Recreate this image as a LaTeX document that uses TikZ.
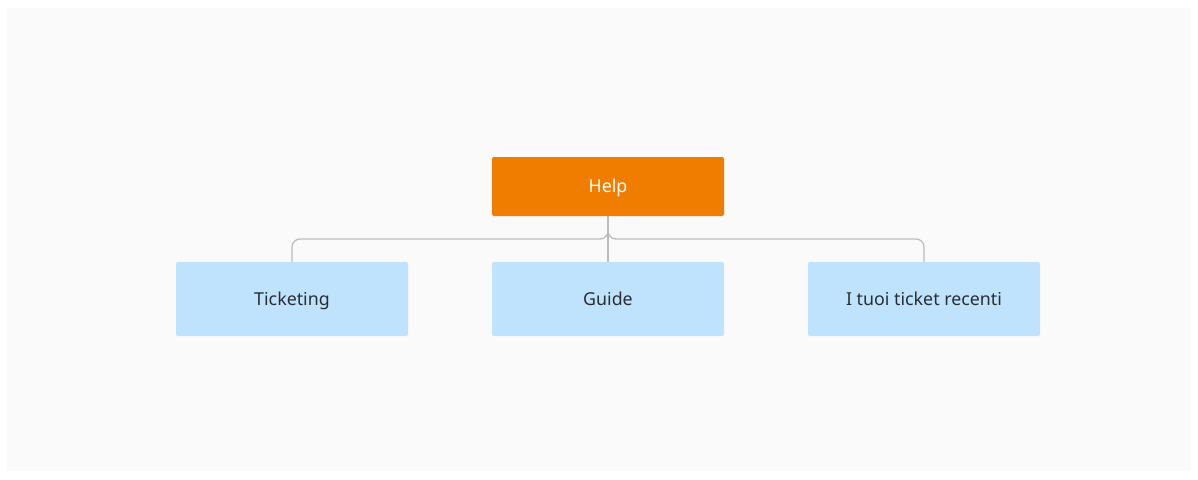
\documentclass[tikz,border=0pt]{standalone}
\usepackage{fontspec}
\setmainfont{Noto Sans}
\definecolor{bgc}{HTML}{FAFAFA}
\definecolor{helpc}{HTML}{F07D00}
\definecolor{childc}{HTML}{BFE3FD}
\definecolor{linec}{HTML}{BDBDBD}
\definecolor{txtc}{HTML}{2A2E33}
\begin{document}
\begin{tikzpicture}[x=1pt,y=-1pt,
  box/.style={rounded corners=2pt, minimum width=232pt, minimum height=60pt, inner sep=0pt, text height=12.9pt, text depth=0pt, font=\fontsize{17.8}{21}\selectfont},
  rootbox/.style={box, fill=helpc, text=white, minimum height=59pt},
  childbox/.style={box, fill=childc, text=txtc, minimum height=74pt},
  conn/.style={draw=linec, line width=1.3pt, rounded corners=8pt}]
\fill[white] (0,0) rectangle (1198,479);
\useasboundingbox (0,0) rectangle (1198,479);
\fill[bgc] (7,8) rectangle (1191,471);
\node[rootbox] (help) at (608,186.5) {Help};
\node[childbox] (tick) at (292,299) {Ticketing};
\node[childbox] (guide) at (608,299) {Guide};
\node[childbox] (recent) at (924,299) {I tuoi ticket recenti};
\coordinate (bus) at (608,239);
\draw[conn] (help.south) |- (tick.north |- bus) -- (tick.north);
\draw[conn] (help.south) |- (recent.north |- bus) -- (recent.north);
\draw[conn] (help.south) -- (guide.north);
\end{tikzpicture}
\end{document}
